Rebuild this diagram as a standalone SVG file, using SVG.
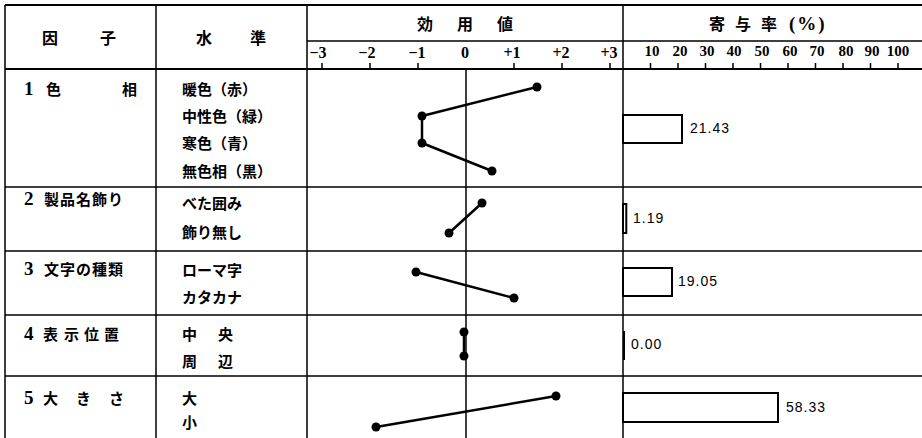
<svg xmlns="http://www.w3.org/2000/svg" width="922" height="438" viewBox="0 0 922 438">
<style>
.jp{font-family:"Noto Sans CJK JP","Noto Sans CJK SC",sans-serif;font-weight:700;font-size:15px;fill:#000;dominant-baseline:central}
.hd{font-size:16px;text-anchor:middle}
.dg{font-family:"Liberation Serif",serif;font-weight:700;font-size:19px;fill:#000}
.tk{font-family:"Liberation Serif",serif;font-weight:700;font-size:16px;fill:#000;text-anchor:middle}
.tc{font-size:15px}
.val{font-family:"Liberation Sans",sans-serif;font-size:14px;letter-spacing:1px;fill:#000;dominant-baseline:central}
.g{stroke:#000;stroke-width:1.5;fill:none}
.t{stroke:#000;stroke-width:2.2;fill:none}
.prof{stroke:#000;stroke-width:2.5;fill:none;stroke-linejoin:round}
.dot{fill:#000}
.bar{fill:#fff;stroke:#000;stroke-width:2}
</style>
<rect width="922" height="438" fill="#fff"/>
<g id="grid">
<path class="t" d="M5,5H922M5,69H922"/>
<path class="g" d="M5,5V438M156,5V438M307,5V438M623,5V438M307,41H922"/>
<path class="g" d="M5,187H922M5,251H922M5,315H922M5,376H922"/>
<path class="g" d="M466,69V438"/>
<path class="g" d="M322,63V69M370,63V69M418,63V69M514,63V69M562,63V69M610,63V69"/>
<path class="g" d="M650.5,63V69M678,63V69M705.5,63V69M733,63V69M760.5,63V69M788,63V69M815.5,63V69M843,63V69M870.5,63V69M898,63V69"/>
</g>
<g id="header">
<text class="jp hd" x="50" y="37">因</text><text class="jp hd" x="108" y="37">子</text>
<text class="jp hd" x="204" y="37">水</text><text class="jp hd" x="258" y="37">準</text>
<text class="jp hd" x="425" y="23">効</text><text class="jp hd" x="465" y="23">用</text><text class="jp hd" x="505" y="23">値</text>
<text class="jp hd" x="717" y="23">寄</text><text class="jp hd" x="743" y="23">与</text><text class="jp hd" x="769" y="23">率</text>
<text class="dg" x="789" y="30" font-size="20" letter-spacing="2">(%)</text>
<text class="tk" x="318" y="58">−3</text><text class="tk" x="367" y="58">−2</text><text class="tk" x="417" y="58">−1</text><text class="tk" x="465" y="58">0</text><text class="tk" x="512" y="58">+1</text><text class="tk" x="561" y="58">+2</text><text class="tk" x="609" y="58">+3</text>
<text class="tk tc" x="652" y="56">10</text><text class="tk tc" x="680" y="56">20</text><text class="tk tc" x="707" y="56">30</text><text class="tk tc" x="734" y="56">40</text><text class="tk tc" x="762" y="56">50</text><text class="tk tc" x="790" y="56">60</text><text class="tk tc" x="817" y="56">70</text><text class="tk tc" x="846" y="56">80</text><text class="tk tc" x="872" y="56">90</text><text class="tk tc" x="898" y="56">100</text>
</g>
<g id="factor1">
<text class="dg" x="24" y="95">1</text><text class="jp" x="46" y="88">色</text><text class="jp" x="122" y="88">相</text>
<text class="jp" x="182" y="88">暖色（赤）</text>
<text class="jp" x="182" y="115">中性色（緑）</text>
<text class="jp" x="182" y="142">寒色（青）</text>
<text class="jp" x="182" y="170">無色相（黒）</text>
<rect class="bar" x="623" y="115" width="59" height="28"/>
<text class="val" x="690" y="128">21.43</text>
</g>
<g id="factor2">
<text class="dg" x="24" y="205">2</text><text class="jp" x="44" y="198" letter-spacing="1">製品名飾り</text>
<text class="jp" x="182" y="202">べた囲み</text>
<text class="jp" x="182" y="231">飾り無し</text>
<rect class="bar" x="623" y="204" width="3.3" height="29"/>
<text class="val" x="633" y="218">1.19</text>
</g>
<g id="factor3">
<text class="dg" x="24" y="275">3</text><text class="jp" x="44" y="268" letter-spacing="1">文字の種類</text>
<text class="jp" x="182" y="269">ローマ字</text>
<text class="jp" x="182" y="296">カタカナ</text>
<rect class="bar" x="623" y="268" width="49" height="28"/>
<text class="val" x="678" y="281">19.05</text>
</g>
<g id="factor4">
<text class="dg" x="24" y="340">4</text><text class="jp" x="43" y="333">表</text><text class="jp" x="64" y="333">示</text><text class="jp" x="84" y="333">位</text><text class="jp" x="104" y="333">置</text>
<text class="jp" x="182" y="333">中</text><text class="jp" x="218" y="333">央</text>
<text class="jp" x="182" y="360">周</text><text class="jp" x="218" y="360">辺</text>
<path class="bar" d="M624,331V360"/>
<text class="val" x="631" y="344">0.00</text>
</g>
<g id="factor5">
<text class="dg" x="24" y="404">5</text><text class="jp" x="43" y="397">大</text><text class="jp" x="76" y="397">き</text><text class="jp" x="109" y="397">さ</text>
<text class="jp" x="182" y="397">大</text>
<text class="jp" x="182" y="421">小</text>
<rect class="bar" x="623" y="393" width="155" height="29"/>
<text class="val" x="786" y="407">58.33</text>
</g>
<g id="connectors">
<polyline class="prof" points="537,87 422,116 422,143 492,171"/>
<polyline class="prof" points="482,203 449,233"/>
<polyline class="prof" points="416,272 514,298"/>
<polyline class="prof" points="464,332 464,356"/>
<polyline class="prof" points="556,396 376,427"/>
<g class="dot">
<circle cx="537" cy="87" r="4.5"/><circle cx="422" cy="116" r="4.5"/><circle cx="422" cy="143" r="4.5"/><circle cx="492" cy="171" r="4.5"/>
<circle cx="482" cy="203" r="4.5"/><circle cx="449" cy="233" r="4.5"/>
<circle cx="416" cy="272" r="4.5"/><circle cx="514" cy="298" r="4.5"/>
<circle cx="464" cy="332" r="4.5"/><circle cx="464" cy="356" r="4.5"/>
<circle cx="556" cy="396" r="4.5"/><circle cx="376" cy="427" r="4.5"/>
</g>
</g>
</svg>
